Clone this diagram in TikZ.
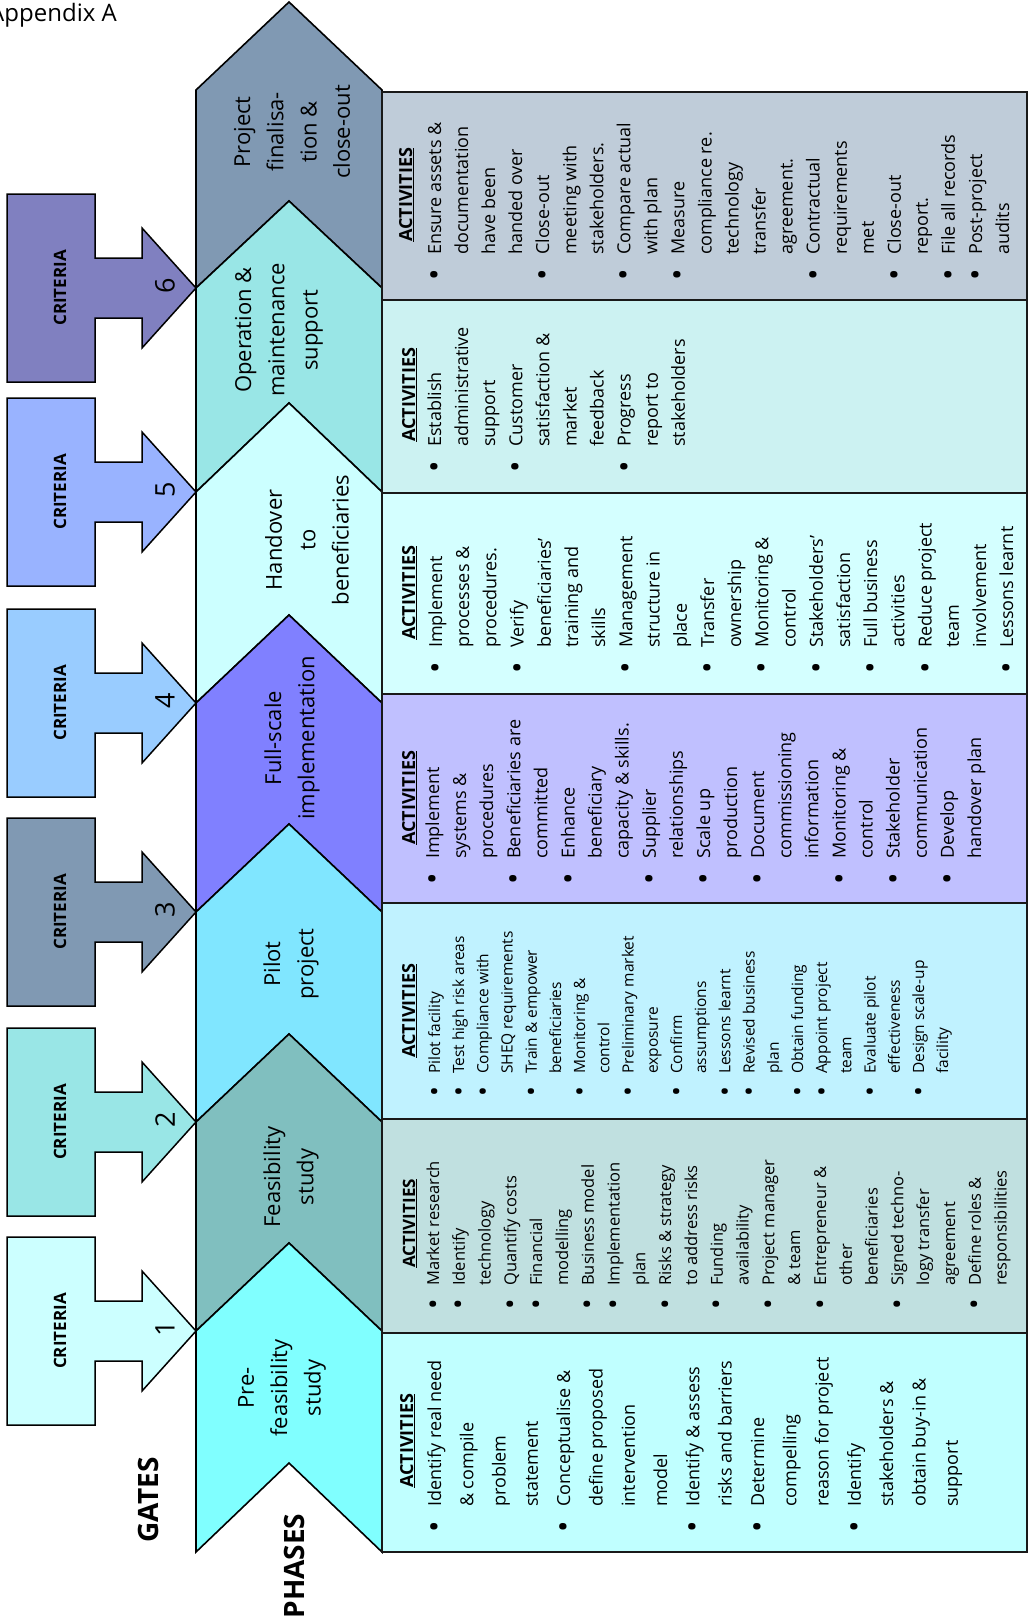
\documentclass[tikz,border=0pt]{standalone}
\usepackage{fontspec}
\setmainfont{Open Sans}
\definecolor{cG1}{HTML}{CCFFFF}
\definecolor{cG2}{HTML}{99E6E6}
\definecolor{cG3}{HTML}{8099B3}
\definecolor{cG4}{HTML}{99CCFF}
\definecolor{cG5}{HTML}{99B3FF}
\definecolor{cG6}{HTML}{8080C0}
\definecolor{cFin}{HTML}{8099B3}
\definecolor{cOp}{HTML}{99E6E6}
\definecolor{cHo}{HTML}{CCFFFF}
\definecolor{cFull}{HTML}{8080FF}
\definecolor{cPil}{HTML}{80E6FF}
\definecolor{cFeas}{HTML}{80BFBF}
\definecolor{cPre}{HTML}{80FFFF}
\definecolor{bFin}{HTML}{BFCCD9}
\definecolor{bOp}{HTML}{CCF2F2}
\definecolor{bHo}{HTML}{D4FFFF}
\definecolor{bFull}{HTML}{C0C0FF}
\definecolor{bPil}{HTML}{C0F2FF}
\definecolor{bFeas}{HTML}{C0E0E0}
\definecolor{bPre}{HTML}{C0FFFF}
\newcommand\fs[2]{\fontsize{#1}{#2}\selectfont}
\newcommand\bul{\leavevmode\llap{\raisebox{-0.25em}{\scalebox{1.7}{\textbullet}}\hspace{0.8em}}}
\newcommand\actbody[3]{\begin{minipage}[t]{330pt}\fs{#1}{#2}\raggedright #3\end{minipage}}
\begin{document}
\begin{tikzpicture}[x=1pt,y=-1pt,
  chev/.style={draw=black,line width=1.6pt,line join=miter},
  actbox/.style={draw=black!90,line width=2.6pt},
  gateshape/.style={draw=black,line width=1.5pt},
  phlabel/.style={rotate=90,align=center,font=\fs{22}{33.3},inner sep=0pt},
  hdr/.style={rotate=90,anchor=base west,inner sep=0pt,font=\fs{18}{18}\bfseries},
  body/.style={rotate=90,anchor=base west,inner sep=0pt},
  crit/.style={rotate=90,font=\fs{17}{17}\bfseries,inner sep=0pt},
  gnum/.style={rotate=90,font=\fs{27}{27},inner sep=0pt},
  biglabel/.style={rotate=90,font=\fs{28}{28}\bfseries,inner sep=0pt}]
\useasboundingbox (0,0) rectangle (1029,1622);

% gates
\foreach \T/\c/\n in {1331/cG1/1,1122/cG2/2,912/cG3/3,703/cG4/4,492/cG5/5,288/cG6/6}{
  \draw[gateshape,fill=\c] (7,\T-94) -- (95,\T-94) -- (95,\T-30) -- (142,\T-30) -- (142,\T-60)
     -- (196,\T) -- (142,\T+60) -- (142,\T+30) -- (95,\T+30) -- (95,\T+94) -- (7,\T+94) -- cycle;
  \node[crit] (crit\n) at (60,\T) {CRITERIA};
  \node[gnum] (num\n) at (165,\T-2) {\n};
}

% phase chevrons
\foreach \ts/\ta/\bs/\ba/\c in {90/2/288/201/cFin,288/201/492/403/cOp,492/403/703/615/cHo,
   703/615/912/824/cFull,912/824/1122/1034/cPil,1122/1034/1331/1243/cFeas,1331/1243/1552/1463/cPre}{
  \draw[chev,fill=\c] (196,\ts) -- (289,\ta) -- (382,\ts) -- (382,\bs) -- (289,\ba) -- (196,\bs) -- cycle;
}

% activity boxes
\foreach \t/\b/\c in {92/300/bFin,300/493/bOp,493/694/bHo,694/903/bFull,903/1119/bPil,1119/1333/bFeas,1333/1552/bPre}{
  \draw[actbox,fill=\c] (382,\t) rectangle (1027,\b);
}

% labels
\node[anchor=base east,font=\fs{24}{24},inner sep=0pt] (appx) at (117,21) {Appendix A};
\node[biglabel] (gates) at (148,1500) {GATES};
\node[biglabel] (phases) at (294,1566) {PHASES};

\node[phlabel] (pfin) at (292,132) {Project\\finalisa-\\tion \&\\close-out};
\node[phlabel] (pop) at (279,330) {Operation \&\\maintenance\\support};
\node[phlabel] (pho) at (307,540) {Handover\\to\\beneficiaries};
\node[phlabel] (pfull) at (292,738) {Full-scale\\implementation};
\node[phlabel] (ppil) at (291,964) {Pilot\\project};
\node[phlabel] (pfeas) at (291,1177) {Feasibility\\study};
\node[phlabel] (ppre) at (282,1388) {Pre-\\feasibility\\study};

% activity headers
\node[hdr] (hpre) at (413,1488) {\underline{ACTIVITIES}};
\node[hdr,font=\fs{17}{17}\bfseries] (hfeas) at (415,1268) {\underline{ACTIVITIES}};
\node[hdr] (hpil) at (415,1058) {\underline{ACTIVITIES}};
\node[hdr] (hfull) at (415,845) {\underline{ACTIVITIES}};
\node[hdr] (hho) at (415,640) {\underline{ACTIVITIES}};
\node[hdr] (hop) at (415,442) {\underline{ACTIVITIES}};
\node[hdr] (hfin) at (412,242) {\underline{ACTIVITIES}};

% activity bodies
\node[body] (apre) at (441,1507) {\actbody{18}{32.3}{%
\bul Identify real need\\
\& compile\\
problem\\
statement\\
\bul Conceptualise \&\\
define proposed\\
intervention\\
model\\
\bul Identify \& assess\\
risks and barriers\\
\bul Determine\\
compelling\\
reason for project\\
\bul Identify\\
stakeholders \&\\
obtain buy-in \&\\
support}};

\node[body] (afeas) at (439,1286) {\actbody{16.5}{25.8}{%
\bul Market research\\
\bul Identify\\
technology\\
\bul Quantify costs\\
\bul Financial\\
modelling\\
\bul Business model\\
\bul Implementation\\
plan\\
\bul Risks \& strategy\\
to address risks\\
\bul Funding\\
availability\\
\bul Project manager\\
\& team\\
\bul Entrepreneur \&\\
other\\
beneficiaries\\
\bul Signed techno-\\
logy transfer\\
agreement\\
\bul Define roles \&\\
responsibilities}};

\node[body] (apil) at (440,1074) {\actbody{15.5}{24.2}{%
\bul Pilot facility\\
\bul Test high risk areas\\
\bul Compliance with\\
SHEQ requirements\\
\bul Train \& empower\\
beneficiaries\\
\bul Monitoring \&\\
control\\
\bul Preliminary market\\
exposure\\
\bul Confirm\\
assumptions\\
\bul Lessons learnt\\
\bul Revised business\\
plan\\
\bul Obtain funding\\
\bul Appoint project\\
team\\
\bul Evaluate pilot\\
effectiveness\\
\bul Design scale-up\\
facility}};

\node[body] (afull) at (439,859) {\actbody{18}{27.1}{%
\bul Implement\\
systems \&\\
procedures\\
\bul Beneficiaries are\\
committed\\
\bul Enhance\\
beneficiary\\
capacity \& skills.\\
\bul Supplier\\
relationships\\
\bul Scale up\\
production\\
\bul Document\\
commissioning\\
information\\
\bul Monitoring \&\\
control\\
\bul Stakeholder\\
communication\\
\bul Develop\\
handover plan}};

\node[body] (aho) at (442,648) {\actbody{18}{27.2}{%
\bul Implement\\
processes \&\\
procedures.\\
\bul Verify\\
beneficiaries’\\
training and\\
skills\\
\bul Management\\
structure in\\
place\\
\bul Transfer\\
ownership\\
\bul Monitoring \&\\
control\\
\bul Stakeholders’\\
satisfaction\\
\bul Full business\\
activities\\
\bul Reduce project\\
team\\
involvement\\
\bul Lessons learnt}};

\node[body] (aop) at (441,447) {\actbody{18}{27.1}{%
\bul Establish\\
administrative\\
support\\
\bul Customer\\
satisfaction \&\\
market\\
feedback\\
\bul Progress\\
report to\\
stakeholders}};

\node[body] (afin) at (441,255) {\actbody{18}{27.05}{%
\bul Ensure assets \&\\
documentation\\
have been\\
handed over\\
\bul Close-out\\
meeting with\\
stakeholders.\\
\bul Compare actual\\
with plan\\
\bul Measure\\
compliance re.\\
technology\\
transfer\\
agreement.\\
\bul Contractual\\
requirements\\
met\\
\bul Close-out\\
report.\\
\bul File all records\\
\bul Post-project\\
audits}};
\end{tikzpicture}
\end{document}
